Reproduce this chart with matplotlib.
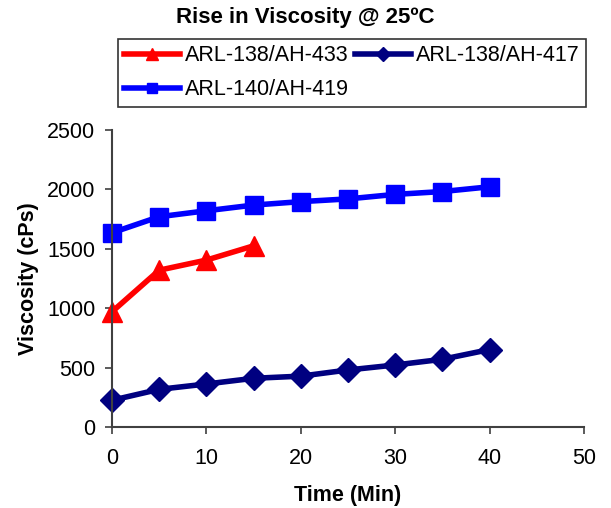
import matplotlib
matplotlib.use('Agg')
import matplotlib.pyplot as plt

plt.rcParams['font.family'] = ['Liberation Sans', 'DejaVu Sans']

time_red = [0, 5, 10, 15]
visc_433 = [970, 1320, 1405, 1525]

time_all = [0, 5, 10, 15, 20, 25, 30, 35, 40]
visc_417 = [225, 317, 362, 410, 428, 480, 522, 570, 652]
visc_419 = [1635, 1770, 1820, 1868, 1897, 1920, 1958, 1982, 2022]

fig = plt.figure(figsize=(6.11, 5.08), dpi=100)
ax = fig.add_axes([112/611, 1-427/508, 472/611, 297/508])

l1, = ax.plot(time_red, visc_433, color='#ff0000', lw=4, marker='^', ms=14, label='ARL-138/AH-433', clip_on=False)
l2, = ax.plot(time_all, visc_417, color='#000080', lw=4, marker='D', ms=12, label='ARL-138/AH-417', clip_on=False)
l3, = ax.plot(time_all, visc_419, color='#0000ff', lw=4, marker='s', ms=13, label='ARL-140/AH-419', clip_on=False)

ax.set_xlim(0, 50)
ax.set_ylim(0, 2500)
ax.set_xticks([0, 10, 20, 30, 40, 50])
ax.set_yticks([0, 500, 1000, 1500, 2000, 2500])
ax.spines['top'].set_visible(False)
ax.spines['right'].set_visible(False)
for s in ['left', 'bottom']:
    ax.spines[s].set_color('#404040')
    ax.spines[s].set_linewidth(1.5)
ax.tick_params(labelsize=15.5, length=5, width=1.2, color='#404040')
ax.tick_params(axis='x', pad=10)
ax.tick_params(axis='y', pad=7)

ax.set_xlabel('Time (Min)', fontsize=15.5, fontweight='bold', labelpad=12)
ax.set_ylabel('Viscosity (cPs)', fontsize=15.5, fontweight='bold', labelpad=6)
fig.text(0.5, 1-17/508, 'Rise in Viscosity @ 25ºC', ha='center', va='center', fontsize=16, fontweight='bold')

leg = fig.legend([l1, l3, l2], ['ARL-138/AH-433', 'ARL-140/AH-419', 'ARL-138/AH-417'],
                 loc='upper left', bbox_to_anchor=(118/611, 1-39/508), ncol=2, fontsize=15.5,
                 frameon=True, fancybox=False, edgecolor='black', handlelength=2.6,
                 borderpad=0.3, labelspacing=0.6, columnspacing=0.3, handletextpad=0.2, markerscale=0.6,
                 borderaxespad=0)
leg.get_frame().set_linewidth(1.2)

fig.savefig('out.png', dpi=100)
